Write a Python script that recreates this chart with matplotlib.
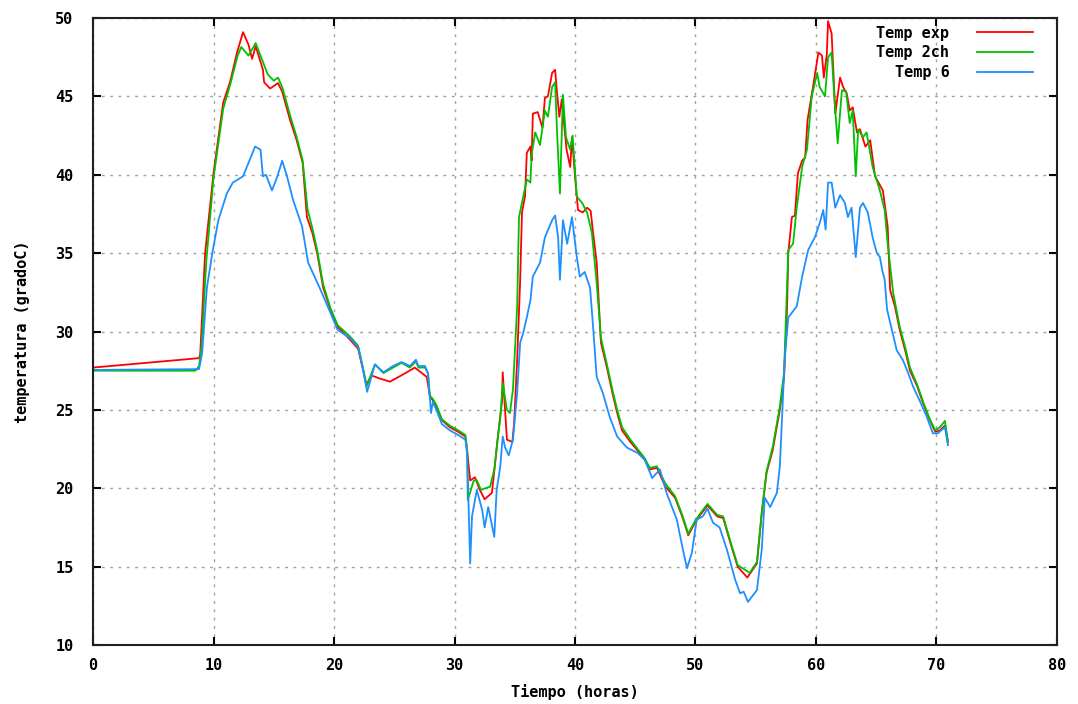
import matplotlib.pyplot as plt

# Points: (tiempo en horas, temperatura en gradoC)
temp_exp = [
    (0, 27.7), (8.8, 28.3), (8.9, 28.6), (9.3, 35.0), (10.0, 40.1), (10.8, 44.6),
    (11.4, 46.0), (11.95, 47.8), (12.45, 49.1), (12.9, 48.3), (13.2, 47.4), (13.5, 48.2),
    (14.1, 46.7), (14.2, 45.9), (14.7, 45.5), (15.35, 45.85), (15.7, 45.3), (16.35, 43.5),
    (16.9, 42.2), (17.4, 40.75), (17.75, 37.3), (18.2, 36.3), (18.6, 35.0), (19.1, 32.8),
    (19.7, 31.4), (20.3, 30.3), (21.3, 29.5), (22.0, 28.9), (22.4, 27.6), (22.7, 26.6),
    (23.1, 27.2), (23.8, 27.0), (24.65, 26.8), (26.05, 27.4), (26.7, 27.7), (27.7, 27.1),
    (27.95, 25.9), (28.2, 25.6), (28.5, 25.2), (28.95, 24.35), (29.6, 23.9), (30.3, 23.6),
    (30.9, 23.3), (31.05, 22.4), (31.3, 20.5), (31.7, 20.7), (32.1, 19.9), (32.5, 19.3),
    (33.1, 19.7), (33.4, 21.8), (33.6, 23.3), (33.95, 25.6), (34.0, 27.4), (34.2, 25.0),
    (34.35, 23.1), (34.8, 22.95), (34.95, 24.2), (35.2, 28.2), (35.45, 33.3), (35.6, 37.6),
    (35.85, 38.6), (36.0, 41.4), (36.3, 41.8), (36.4, 40.9), (36.5, 43.9), (36.9, 44.0),
    (37.3, 43.0), (37.5, 44.9), (37.75, 45.0), (38.1, 46.5), (38.35, 46.7), (38.5, 45.3),
    (38.7, 43.7), (38.9, 44.8), (39.3, 41.6), (39.6, 40.5), (39.75, 42.4), (40.0, 39.9),
    (40.25, 37.75), (40.65, 37.6), (41.0, 37.9), (41.3, 37.7), (41.5, 36.3), (41.8, 34.4),
    (42.15, 29.3), (42.65, 27.7), (43.1, 26.1), (43.5, 24.8), (43.9, 23.7), (44.6, 22.95),
    (45.2, 22.4), (45.8, 21.8), (46.2, 21.2), (46.8, 21.3), (47.5, 20.1), (48.3, 19.4),
    (48.9, 18.2), (49.4, 17.0), (49.95, 17.8), (50.4, 18.3), (51.0, 18.9), (51.8, 18.2),
    (52.3, 18.1), (52.9, 16.5), (53.5, 15.0), (54.3, 14.3), (55.1, 15.2), (55.5, 18.4),
    (55.9, 21.0), (56.4, 22.4), (57.0, 25.0), (57.35, 27.1), (57.6, 31.5), (57.7, 35.0),
    (58.0, 37.3), (58.25, 37.4), (58.5, 40.1), (58.85, 40.9), (59.1, 41.1), (59.3, 43.5),
    (59.75, 45.6), (60.2, 47.8), (60.5, 47.6), (60.65, 46.2), (60.9, 47.7), (61.0, 49.8),
    (61.3, 49.0), (61.6, 43.9), (62.0, 46.2), (62.25, 45.6), (62.55, 45.2), (62.8, 44.1),
    (63.05, 44.3), (63.4, 42.7), (63.65, 42.9), (64.1, 41.8), (64.5, 42.2), (64.9, 39.9),
    (65.55, 39.0), (65.95, 36.7), (66.15, 32.65), (66.55, 31.6), (66.95, 30.1), (67.4, 28.8),
    (67.8, 27.5), (68.4, 26.5), (68.9, 25.4), (69.45, 24.35), (69.9, 23.6), (70.3, 23.7),
    (70.7, 24.0), (70.95, 22.95),
]

temp_2ch = [
    (0, 27.5), (8.5, 27.5), (8.8, 27.8), (9.0, 29.0), (9.4, 34.5), (10.0, 39.8),
    (10.8, 44.2), (11.4, 45.8), (12.0, 47.6), (12.3, 48.15), (12.9, 47.6), (13.5, 48.4),
    (14.0, 47.4), (14.5, 46.4), (15.0, 46.0), (15.35, 46.2), (15.7, 45.6), (16.35, 43.8),
    (16.9, 42.4), (17.4, 40.9), (17.8, 37.8), (18.2, 36.6), (18.6, 35.2), (19.1, 33.0),
    (19.7, 31.5), (20.3, 30.4), (21.3, 29.7), (22.0, 29.1), (22.4, 27.7), (22.7, 26.5),
    (23.4, 27.9), (24.1, 27.35), (24.9, 27.7), (25.6, 28.0), (26.3, 27.7), (26.8, 28.1),
    (27.0, 27.7), (27.55, 27.7), (27.8, 27.35), (27.95, 25.9), (28.2, 25.7), (28.5, 25.3),
    (28.95, 24.4), (29.6, 24.0), (30.3, 23.7), (30.9, 23.4), (31.05, 22.4), (31.1, 19.25),
    (31.6, 20.5), (31.85, 20.5), (32.2, 19.9), (32.95, 20.1), (33.3, 21.2), (33.5, 22.6),
    (33.8, 24.5), (34.0, 26.7), (34.35, 25.0), (34.6, 24.8), (34.85, 26.3), (35.0, 28.6),
    (35.2, 31.6), (35.35, 37.3), (36.0, 39.7), (36.3, 39.5), (36.4, 41.3), (36.7, 42.7),
    (37.1, 41.9), (37.5, 44.1), (37.75, 43.7), (38.1, 45.6), (38.35, 45.9), (38.5, 42.9),
    (38.75, 38.8), (39.0, 45.1), (39.25, 42.4), (39.6, 41.6), (39.8, 42.5), (40.15, 38.6),
    (40.6, 38.2), (41.0, 37.6), (41.4, 36.3), (41.8, 33.1), (42.15, 29.6), (42.65, 27.9),
    (43.1, 26.3), (43.5, 25.0), (43.9, 23.9), (44.6, 23.1), (45.2, 22.5), (45.8, 21.9),
    (46.2, 21.3), (46.8, 21.4), (47.5, 20.3), (48.3, 19.5), (48.9, 18.3), (49.4, 17.1),
    (49.95, 17.9), (50.4, 18.4), (51.0, 19.0), (51.8, 18.3), (52.3, 18.2), (52.9, 16.6),
    (53.5, 15.1), (54.5, 14.6), (55.1, 15.3), (55.5, 18.5), (55.9, 21.1), (56.4, 22.6),
    (57.0, 25.2), (57.35, 27.4), (57.7, 35.2), (58.1, 35.6), (58.4, 37.9), (58.85, 40.5),
    (59.25, 41.6), (59.65, 45.0), (60.1, 46.5), (60.3, 45.6), (60.75, 45.0), (61.0, 47.5),
    (61.3, 47.8), (61.5, 45.2), (61.8, 42.0), (62.15, 45.4), (62.5, 45.3), (62.8, 43.3),
    (63.05, 44.1), (63.3, 39.9), (63.5, 42.9), (63.9, 42.4), (64.2, 42.7), (64.7, 40.5),
    (65.3, 39.0), (65.7, 37.75), (65.95, 35.6), (66.4, 32.5), (66.95, 30.3), (67.4, 29.0),
    (67.8, 27.7), (68.4, 26.6), (68.9, 25.5), (69.45, 24.4), (69.9, 23.7), (70.3, 23.9),
    (70.7, 24.3), (70.95, 23.0),
]

temp_6 = [
    (0, 27.55), (8.8, 27.6), (9.05, 28.6), (9.45, 32.8), (9.9, 35.0), (10.4, 37.1),
    (11.1, 38.8), (11.6, 39.5), (12.45, 39.9), (12.9, 40.75), (13.45, 41.8), (13.9, 41.6),
    (14.1, 39.9), (14.35, 40.0), (14.85, 39.0), (15.3, 39.9), (15.7, 40.9), (16.1, 39.9),
    (16.6, 38.4), (17.35, 36.7), (17.85, 34.4), (18.8, 32.8), (19.7, 31.2), (20.3, 30.1),
    (21.3, 29.6), (22.0, 29.0), (22.4, 27.6), (22.75, 26.15), (23.4, 27.9), (24.1, 27.4),
    (24.9, 27.8), (25.6, 28.05), (26.3, 27.8), (26.8, 28.2), (27.0, 27.8), (27.55, 27.8),
    (27.8, 27.3), (28.05, 24.8), (28.2, 25.5), (28.5, 25.0), (28.95, 24.1), (29.6, 23.7),
    (30.3, 23.4), (30.9, 23.1), (31.05, 22.2), (31.3, 15.2), (31.45, 18.2), (31.85, 19.9),
    (32.3, 18.6), (32.5, 17.5), (32.8, 18.8), (33.3, 16.9), (33.5, 19.9), (33.8, 21.4),
    (34.0, 23.3), (34.2, 22.6), (34.5, 22.1), (34.85, 23.1), (35.2, 26.1), (35.45, 29.3),
    (35.7, 29.9), (36.0, 30.9), (36.3, 32.0), (36.5, 33.5), (37.1, 34.4), (37.5, 36.0),
    (38.1, 37.1), (38.35, 37.4), (38.6, 36.0), (38.75, 33.3), (39.0, 37.1), (39.35, 35.6),
    (39.75, 37.3), (40.15, 34.75), (40.4, 33.5), (40.8, 33.8), (41.25, 32.8), (41.5, 30.3),
    (41.8, 27.1), (42.3, 26.1), (42.9, 24.5), (43.5, 23.3), (44.3, 22.6), (45.2, 22.25),
    (45.8, 21.8), (46.4, 20.65), (47.05, 21.2), (47.6, 19.7), (48.45, 18.0), (48.95, 16.1),
    (49.3, 14.9), (49.7, 15.9), (50.1, 18.0), (50.6, 18.2), (51.0, 18.7), (51.45, 17.8),
    (52.0, 17.5), (52.6, 16.1), (53.3, 14.15), (53.7, 13.3), (54.0, 13.4), (54.35, 12.75),
    (55.1, 13.5), (55.5, 16.1), (55.75, 19.4), (56.2, 18.8), (56.75, 19.7), (57.0, 21.4),
    (57.4, 28.2), (57.7, 30.9), (58.4, 31.6), (58.85, 33.5), (59.35, 35.2), (59.9, 36.0),
    (60.3, 36.9), (60.6, 37.75), (60.8, 36.5), (61.0, 39.5), (61.3, 39.5), (61.6, 37.9),
    (62.0, 38.7), (62.4, 38.2), (62.65, 37.3), (62.95, 37.9), (63.3, 34.75), (63.65, 37.9),
    (63.9, 38.2), (64.3, 37.6), (64.7, 36.0), (65.05, 35.0), (65.3, 34.75), (65.5, 33.9),
    (65.7, 33.3), (65.9, 31.4), (66.3, 30.1), (66.7, 28.8), (67.2, 28.2), (67.65, 27.35),
    (68.05, 26.5), (68.6, 25.6), (69.2, 24.55), (69.7, 23.5), (70.1, 23.5), (70.7, 23.9),
    (70.95, 22.75),
]

series_labels = ['Temp exp', 'Temp 2ch', 'Temp 6']
series_colors = ['#ff0000', '#00c000', '#1e8fff']

x_ticks = list(range(0, 81, 10))
y_ticks = list(range(10, 51, 5))

plt.rcParams['font.family'] = 'DejaVu Sans Mono'
plt.rcParams['font.weight'] = 'bold'

fig = plt.figure(figsize=(10.78, 7.04), dpi=100)
ax = fig.add_axes([0.0863, 0.0838, 0.8942, 0.8906])

for pts, label, color in zip([temp_exp, temp_2ch, temp_6], series_labels, series_colors):
    t = [p[0] for p in pts]
    v = [p[1] for p in pts]
    ax.plot(t, v, color=color, linewidth=1.3, label=label)

ax.set_xlim(0, 80)
ax.set_ylim(10, 50)
ax.set_xticks(x_ticks)
ax.set_yticks(y_ticks)
ax.tick_params(direction='in', length=6, width=1.5, top=True, right=True,
               labelsize=11, colors='black')
ax.tick_params(axis='x', pad=9)
ax.tick_params(axis='y', pad=14)
for lbl in ax.get_xticklabels() + ax.get_yticklabels():
    lbl.set_fontweight('bold')

ax.grid(True, color='#a0a0a0', linestyle=(0, (2, 4)), linewidth=1)
for sp in ax.spines.values():
    sp.set_linewidth(1.5)
    sp.set_color('#202020')

ax.set_xlabel('Tiempo (horas)', fontsize=11, fontweight='bold', labelpad=8)
ax.set_ylabel('temperatura (gradoC)', fontsize=11, fontweight='bold', labelpad=18)

leg = ax.legend(loc='upper right', frameon=False, markerfirst=False,
                handlelength=3.7, handletextpad=1.8, labelspacing=0.3,
                fontsize=11, borderaxespad=0.3,
                bbox_to_anchor=(1 - 13 / 964, 1 + 3 / 627))
for txt in leg.get_texts():
    txt.set_fontweight('bold')

fig.savefig('out.png', dpi=100)
